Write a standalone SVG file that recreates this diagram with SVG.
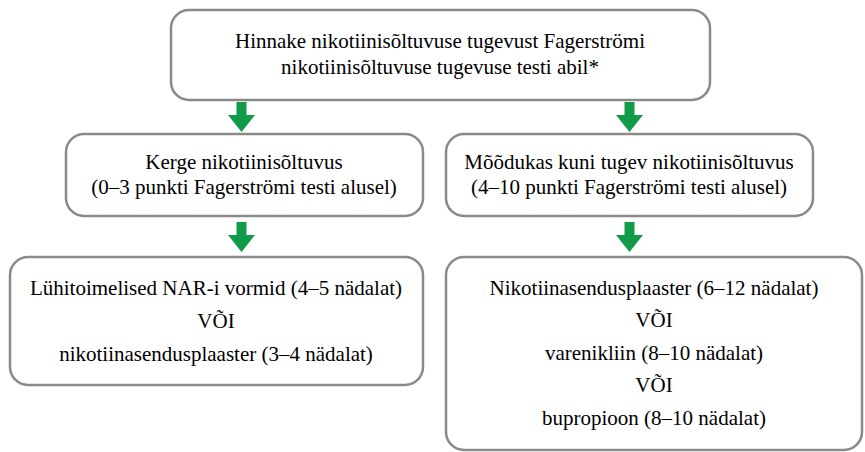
<svg xmlns="http://www.w3.org/2000/svg" width="865" height="452" viewBox="0 0 865 452">
<style>
.box{fill:#fff;stroke:#8a8a8a;stroke-width:2.5}
text{font-size:21px;fill:#000;text-anchor:middle}
.arr{fill:#119a48}
</style>
<rect width="865" height="452" fill="#fff"/>
<g id="n1"><rect class="box" x="171" y="10" width="539" height="90" rx="18"/>
<text font-family="Times New Roman" x="440" y="48">Hinnake nikotiinisõltuvuse tugevust Fagerströmi</text>
<text font-family="Times New Roman" x="440" y="74">nikotiinisõltuvuse tugevuse testi abil*</text></g>
<g id="n2"><rect class="box" x="66" y="134" width="357" height="82" rx="18"/>
<text font-family="Times New Roman" x="244" y="169">Kerge nikotiinisõltuvus</text>
<text font-family="Times New Roman" x="244" y="194">(0–3 punkti Fagerströmi testi alusel)</text></g>
<g id="n3"><rect class="box" x="446" y="134" width="367" height="82" rx="18"/>
<text font-family="Times New Roman" x="629" y="169">Mõõdukas kuni tugev nikotiinisõltuvus</text>
<text font-family="Times New Roman" x="629" y="194">(4–10 punkti Fagerströmi testi alusel)</text></g>
<g id="n4"><rect class="box" x="10" y="257" width="413" height="128" rx="18"/>
<text font-family="Times New Roman" x="216" y="295">Lühitoimelised NAR-i vormid (4–5 nädalat)</text>
<text font-family="Times New Roman" x="216" y="328">VÕI</text>
<text font-family="Times New Roman" x="216" y="361">nikotiinasendusplaaster (3–4 nädalat)</text></g>
<g id="n5"><rect class="box" x="446" y="257" width="416" height="193" rx="18"/>
<text font-family="Times New Roman" x="654" y="295">Nikotiinasendusplaaster (6–12 nädalat)</text>
<text font-family="Times New Roman" x="654" y="327">VÕI</text>
<text font-family="Times New Roman" x="654" y="360">varenikliin (8–10 nädalat)</text>
<text font-family="Times New Roman" x="654" y="392">VÕI</text>
<text font-family="Times New Roman" x="654" y="425">bupropioon (8–10 nädalat)</text></g>
<g id="connectors">
<path class="arr" d="M236.5 102h10v13h8.5l-13.5 17l-13.5-17h8.5z"/>
<path class="arr" d="M624.5 102h10v13h8.5l-13.5 17l-13.5-17h8.5z"/>
<path class="arr" d="M236.5 222h10v13h8.5l-13.5 17l-13.5-17h8.5z"/>
<path class="arr" d="M624.5 222h10v13h8.5l-13.5 17l-13.5-17h8.5z"/>
</g>
</svg>
